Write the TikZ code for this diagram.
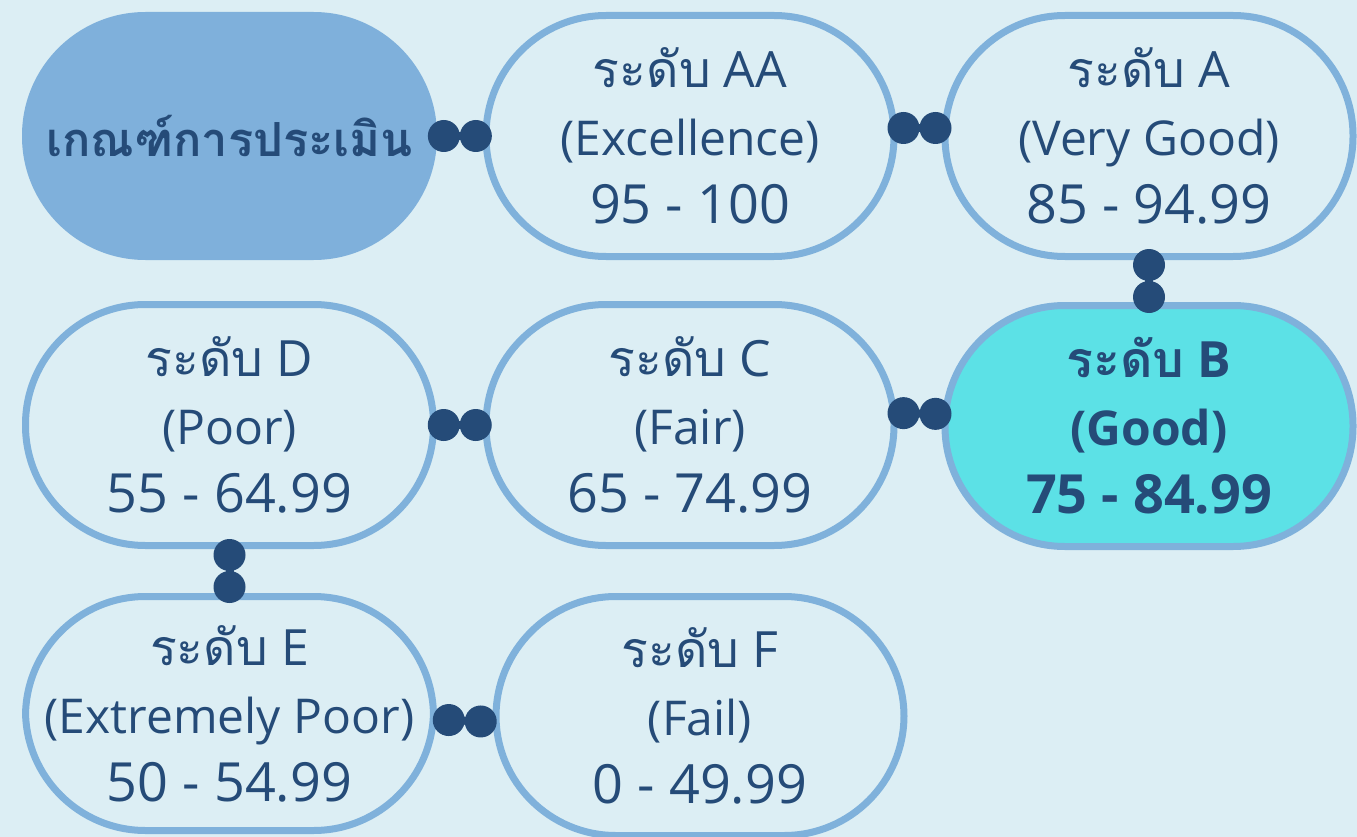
\documentclass[tikz,border=0pt]{standalone}
\usepackage{fontspec}
\setmainfont{Open Sans}
\newfontfamily\thai[Script=Thai]{Loma}
\usetikzlibrary{calc}
\definecolor{bgc}{HTML}{DCEEF4}
\definecolor{edgec}{HTML}{7FB1DB}
\definecolor{hdrc}{HTML}{7FB0DB}
\definecolor{goodc}{HTML}{5CE1E6}
\definecolor{inkc}{HTML}{254B78}
\newcommand\numline[1]{{\fontsize{54}{68}\selectfont #1}}
\newcommand\midline[1]{{\fontsize{48}{68}\selectfont #1}}
\tikzset{
  grade/.style={rectangle, rounded corners=120pt, draw=edgec, line width=7pt, fill=bgc,
    minimum width=408pt, minimum height=241pt, inner sep=0pt,
    align=center, text=inkc, font=\fontsize{50}{68}\selectfont},
  header/.style={rectangle, rounded corners=123.5pt, fill=hdrc, minimum width=415pt, minimum height=248pt,
    inner sep=0pt, text=inkc, font=\fontsize{47}{60}\selectfont\bfseries},
  linkline/.style={draw=inkc, line width=8pt},
  dotc/.style={fill=inkc}
}
\newcommand\joinnodes[2]{%
  \coordinate (m) at ($(#1)!0.5!(#2)$);
  \coordinate (p) at ($(m)!16pt!(#1)$);
  \coordinate (q) at ($(m)!16pt!(#2)$);
  \draw[linkline] (p) -- (q);
  \fill[dotc] (p) circle (16pt) (q) circle (16pt);}
\begin{document}
\begin{tikzpicture}[x=1pt,y=-1pt]
\fill[bgc] (0,0) rectangle (1357,837);
\useasboundingbox (0,0) rectangle (1357,837);
\node[header] (H) at (229.5,136) {\thai เกณฑ์การประเมิน};
\node[grade] (AA) at (690,136) {{\thai ระดับ} AA\\\midline{(Excellence)}\\\numline{95 - 100}};
\node[grade] (A) at (1149,136) {{\thai ระดับ} A\\\midline{(Very Good)}\\\numline{85 - 94.99}};
\node[grade, fill=goodc, font=\fontsize{50}{68}\selectfont\bfseries] (B) at (1149,426) {{\thai ระดับ} B\\\midline{(Good)}\\\numline{75 - 84.99}};
\node[grade] (C) at (690,425) {{\thai ระดับ} C\\\midline{(Fair)}\\\numline{65 - 74.99}};
\node[grade] (D) at (229.5,425) {{\thai ระดับ} D\\\midline{(Poor)}\\\numline{55 - 64.99}};
\node[grade, minimum height=234pt] (E) at (229.5,713.5) {{\thai ระดับ} E\\\midline{(Extremely Poor)}\\\numline{50 - 54.99}};
\node[grade, minimum height=239pt] (F) at (700,716) {{\thai ระดับ} F\\\midline{(Fail)}\\\numline{0 - 49.99}};
\joinnodes{H.east}{AA.west}
\joinnodes{$(AA.east)+(0,-8)$}{$(A.west)+(0,-8)$}
\joinnodes{A.south}{B.north}
\joinnodes{$(B.west)+(0,-12)$}{$(C.east)+(0,-12)$}
\joinnodes{C.west}{D.east}
\joinnodes{D.south}{E.north}
\joinnodes{$(E.east)+(0,6)$}{$(F.west)+(0,6)$}
\end{tikzpicture}
\end{document}
